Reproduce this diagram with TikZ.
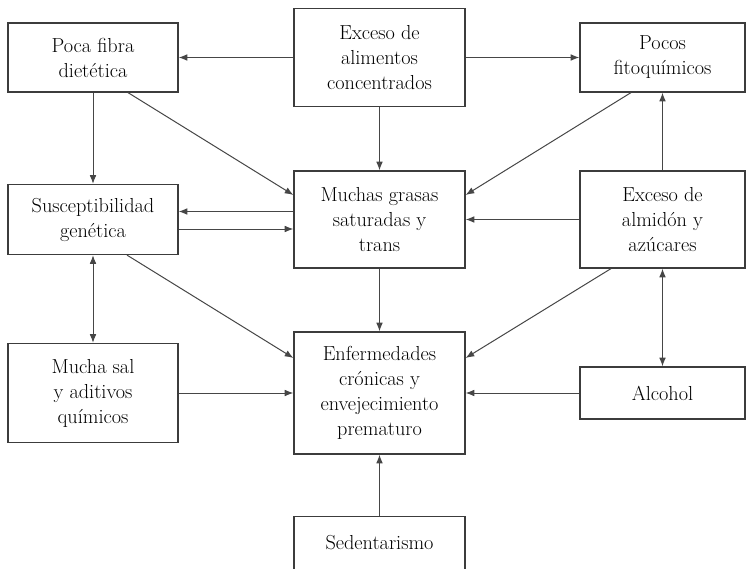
\documentclass[tikz,border=0pt]{standalone}
\usepackage{tikz}
\usetikzlibrary{arrows.meta, positioning, calc}
\definecolor{linegray}{RGB}{70,70,70}
\definecolor{boxgray}{RGB}{60,60,60}

\begin{document}
\begin{tikzpicture}[
    x=0.75pt, y=-0.75pt,
    box/.style={rectangle, draw=boxgray, line width=0.9pt, align=center, inner sep=2pt, font=\fontsize{15.2}{18.75}\selectfont},
    leftbox/.style={box, minimum width=127.5pt},
    midbox/.style={box, minimum width=128.25pt},
    rightbox/.style={box, minimum width=123.75pt},
    link/.style={-{Latex[length=6.5pt,width=5pt]}, draw=linegray, line width=0.75pt},
    both/.style={link, {Latex[length=6.5pt,width=5pt]}-{Latex[length=6.5pt,width=5pt]}}
]
    \useasboundingbox (0,0) rectangle (746,568);
    \clip (0,0) rectangle (746,568);

    % top row
    \node[leftbox, minimum height=51.75pt] (fibra) at (93,57.5) {Poca fibra\\dietética};
    \node[midbox, minimum height=73.5pt] (alimentos) at (379.5,57.5) {Exceso de\\alimentos\\concentrados};
    \node[rightbox, minimum height=51.75pt] (pocos) at (662.5,57.5) {Pocos\\fitoquímicos};

    % middle row
    \node[leftbox, minimum height=52.5pt] (suscept) at (93,219.5) {Susceptibilidad\\genética};
    \node[midbox, minimum height=72.75pt] (grasas) at (379.5,219.5) {Muchas grasas\\saturadas y\\trans};
    \node[rightbox, minimum height=72.75pt] (almidon) at (662.5,219.5) {Exceso de\\almidón y\\azúcares};

    % bottom rows
    \node[leftbox, minimum height=74.25pt] (sal) at (93,393) {Mucha sal\\y aditivos\\químicos};
    \node[midbox, minimum height=91.5pt] (enferm) at (379.5,393) {Enfermedades\\crónicas y\\envejecimiento\\prematuro};
    \node[rightbox, minimum height=39pt] (alcohol) at (662.5,393) {Alcohol};
    \node[midbox, minimum height=39.75pt] (sedent) at (379.5,543) {Sedentarismo};

    % arrows from the top row
    \draw[link] (alimentos.west) -- (fibra.east);
    \draw[link] (alimentos.east) -- (pocos.west);
    \draw[link] (alimentos.south) -- (grasas.north);
    \draw[link] (fibra.south) -- (suscept.north);
    \draw[link] ($(fibra.south)+(35,0)$) -- ($(grasas.west)+(0,-24.5)$);
    \draw[link] ($(pocos.south)+(-31.5,0)$) -- ($(grasas.east)+(0,-24.5)$);

    % arrows around the middle row
    \draw[link] ($(grasas.west)+(0,-8)$) -- ($(suscept.east)+(0,-8)$);
    \draw[link] ($(suscept.east)+(0,9.5)$) -- ($(grasas.west)+(0,9.5)$);
    \draw[link] (almidon.west) -- (grasas.east);
    \draw[link] (almidon.north) -- (pocos.south);

    % arrows into the chronic diseases box
    \draw[both] (suscept.south) -- (sal.north);
    \draw[link] ($(suscept.south)+(34,0)$) -- ($(enferm.west)+(0,-35)$);
    \draw[link] ($(almidon.south)+(-51.5,0)$) -- ($(enferm.east)+(0,-35)$);
    \draw[link] (grasas.south) -- (enferm.north);
    \draw[link] (sal.east) -- (enferm.west);
    \draw[link] (alcohol.west) -- (enferm.east);
    \draw[both] (almidon.south) -- (alcohol.north);
    \draw[link] (sedent.north) -- (enferm.south);
\end{tikzpicture}
\end{document}
